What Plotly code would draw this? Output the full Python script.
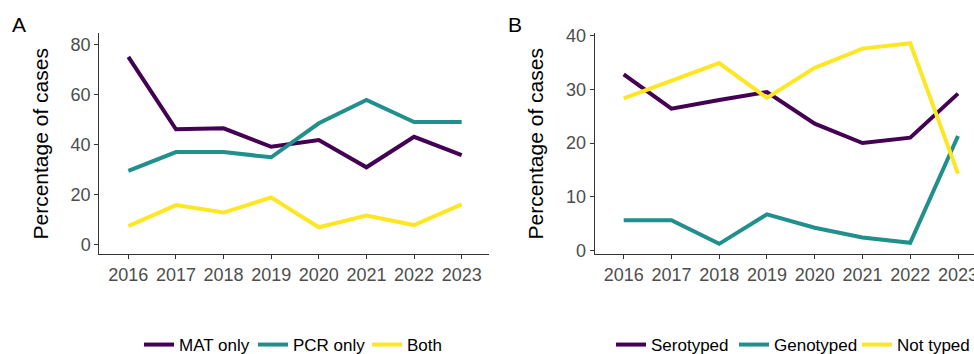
import plotly.graph_objects as go

# Years on the x axis of both panels
years = [2016, 2017, 2018, 2019, 2020, 2021, 2022, 2023]
year_labels = [str(y) for y in years]

# Panel A: diagnostic method (% of cases)
mat_only = [75, 46, 46.4, 39, 41.7, 30.8, 43, 35.7]
pcr_only = [29.4, 36.9, 36.9, 34.8, 48.4, 57.7, 48.9, 48.9]
both = [7.3, 15.7, 12.7, 18.7, 6.8, 11.5, 7.7, 16]

# Panel B: typing status (% of cases)
serotyped = [32.8, 26.4, 28, 29.5, 23.6, 20, 21, 29.2]
genotyped = [5.6, 5.6, 1.2, 6.7, 4.2, 2.4, 1.4, 21.3]
not_typed = [28.3, 31.6, 34.9, 28.4, 34, 37.6, 38.6, 14.3]

PURPLE = "#440154"
TEAL = "#21908C"
YELLOW = "#FDE725"

W, H = 974, 354
FONT = "Liberation Sans, Arial, sans-serif"

fig = go.Figure()

panel_a = [("MAT only", mat_only, PURPLE), ("PCR only", pcr_only, TEAL), ("Both", both, YELLOW)]
panel_b = [("Serotyped", serotyped, PURPLE), ("Genotyped", genotyped, TEAL), ("Not typed", not_typed, YELLOW)]

for name, vals, col in panel_a:
    fig.add_trace(go.Scatter(x=years, y=vals, name=name, mode="lines",
                             line=dict(color=col, width=4),
                             xaxis="x", yaxis="y", legend="legend"))
for name, vals, col in panel_b:
    fig.add_trace(go.Scatter(x=years, y=vals, name=name, mode="lines",
                             line=dict(color=col, width=4),
                             xaxis="x2", yaxis="y2", legend="legend2"))

def px_x(p):
    return p / W

def px_y(p):
    return (H - p) / H

axis_common = dict(
    showgrid=False, zeroline=False, showline=True, linecolor="#333333", linewidth=1.1,
    ticks="outside", ticklen=4, tickwidth=1, tickcolor="#333333",
    tickfont=dict(family=FONT, size=18, color="#4D4D4D"),
    ticklabeloverflow="allow",
)

ydom = [px_y(254.3), px_y(33.3)]

fig.update_layout(
    width=W, height=H,
    margin=dict(l=0, r=0, t=0, b=0, autoexpand=False),
    paper_bgcolor="white", plot_bgcolor="white",
    font=dict(family=FONT),
    xaxis=dict(axis_common, domain=[px_x(99.3), px_x(489.3)], range=[2015.39, 2023.58],
               tickvals=years, ticktext=year_labels, anchor="y"),
    yaxis=dict(axis_common, domain=ydom, range=[-4, 84.4], tickvals=[0, 20, 40, 60, 80],
               anchor="x",
               title=dict(text="Percentage of cases", standoff=16,
                          font=dict(family=FONT, size=21, color="black"))),
    xaxis2=dict(axis_common, domain=[px_x(594.7), 1.0], range=[2015.393, 2023.335],
                tickvals=years, ticktext=year_labels, anchor="y2"),
    yaxis2=dict(axis_common, domain=ydom, range=[-0.75, 40.45], tickvals=[0, 10, 20, 30, 40],
                anchor="x2",
                title=dict(text="Percentage of cases", standoff=16,
                           font=dict(family=FONT, size=21, color="black"))),
    legend=dict(orientation="h", x=px_x(139), xanchor="left", y=px_y(345), yanchor="middle",
                font=dict(family=FONT, size=17, color="black"), bgcolor="rgba(0,0,0,0)",
                itemwidth=30, entrywidth=69, entrywidthmode="pixels"),
    legend2=dict(orientation="h", x=px_x(611), xanchor="left", y=px_y(345), yanchor="middle",
                 font=dict(family=FONT, size=17, color="black"), bgcolor="rgba(0,0,0,0)",
                 itemwidth=30, entrywidth=78, entrywidthmode="pixels"),
    showlegend=True,
    annotations=[
        dict(text="A", x=px_x(10), y=px_y(25), xref="paper", yref="paper",
             xanchor="left", yanchor="middle", showarrow=False,
             font=dict(family=FONT, size=21, color="black")),
        dict(text="B", x=px_x(506), y=px_y(25), xref="paper", yref="paper",
             xanchor="left", yanchor="middle", showarrow=False,
             font=dict(family=FONT, size=21, color="black")),
    ],
)

fig.write_html("out.html")
